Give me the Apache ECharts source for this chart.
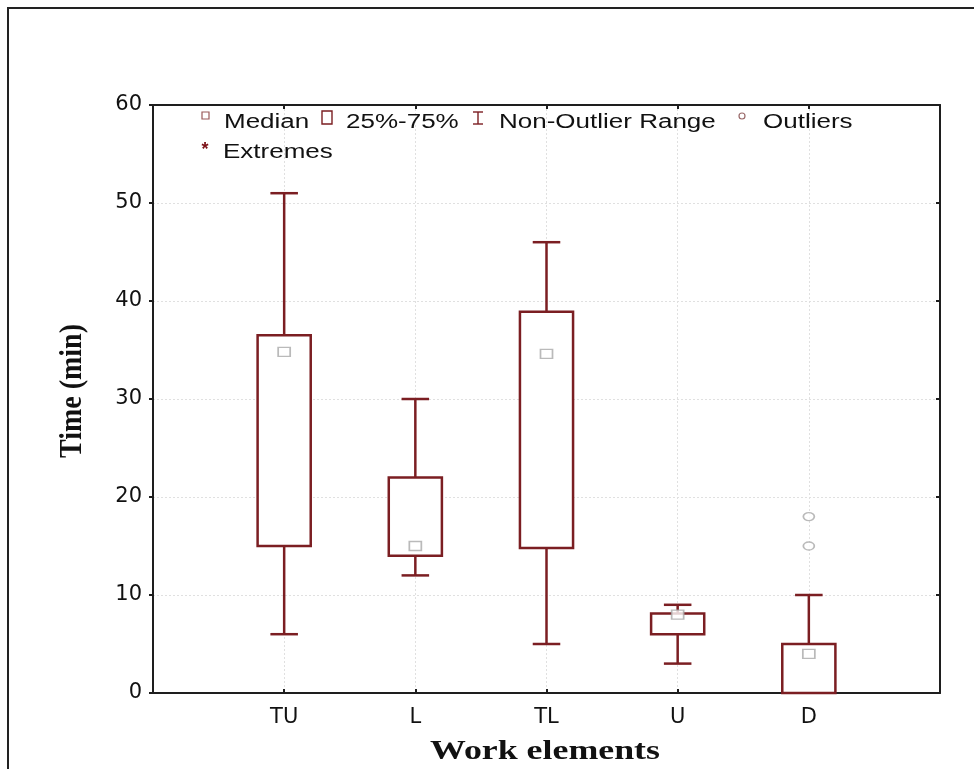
<!DOCTYPE html>
<html>
<head>
<meta charset="utf-8">
<script src="https://cdn.jsdelivr.net/npm/echarts@6/dist/echarts.min.js"></script>
<style>html,body{margin:0;padding:0;background:#fff}#main{width:974px;height:769px}</style>
</head>
<body>
<div id="main"></div>
<script>
// ---- data ----
const categories = ['TU', 'L', 'TL', 'U', 'D'];
const whiskerMin = [6, 12, 5, 3, 0];
const quartile1 = [15, 14, 14.8, 6, 0];
const medians = [34.8, 15, 34.6, 8, 4];
const quartile3 = [36.5, 22, 38.9, 8.1, 5];
const whiskerMax = [51, 30, 46, 9, 10];
const outlierCategory = ['D', 'D'];
const outlierValues = [15, 18];
const yTicks = [0, 10, 20, 30, 40, 50, 60];

// ---- build series data ----
const boxData = categories.map((c, i) => [i + 1, whiskerMin[i], quartile1[i], medians[i], quartile3[i], whiskerMax[i]]);
const medianData = categories.map((c, i) => [i + 1, medians[i]]);
const outlierData = outlierValues.map((v, i) => [categories.indexOf(outlierCategory[i]) + 1, v]);

const BOX_COLOR = '#7b1e22';
const AXIS_COLOR = '#1e1e1e';
const GRID_COLOR = '#e0e0e0';
const SANS = '"DejaVu Sans", sans-serif';
const LEG_FONT = '20px "Liberation Sans", Arial, sans-serif';
const TITLE_FONT = 'bold 28px "Liberation Serif", "Times New Roman", serif';

const chart = echarts.init(document.getElementById('main'), null, {renderer: 'canvas'});

function renderBox(params, api) {
  const x = api.value(0);
  const pMin = api.coord([x, api.value(1)]);
  const pQ1 = api.coord([x, api.value(2)]);
  const pQ3 = api.coord([x, api.value(4)]);
  const pMax = api.coord([x, api.value(5)]);
  const unit = api.size([1, 0])[0];
  const bw = unit * 0.405, cw = unit * 0.21;
  const cx = pMin[0];
  const ls = {stroke: BOX_COLOR, lineWidth: 2.5};
  const children = [];
  if (pMax[1] < pQ3[1]) {
    children.push({type: 'line', shape: {x1: cx, y1: pMax[1], x2: cx, y2: pQ3[1]}, style: ls});
    children.push({type: 'line', shape: {x1: cx - cw / 2, y1: pMax[1], x2: cx + cw / 2, y2: pMax[1]}, style: ls});
  }
  if (pMin[1] > pQ1[1]) {
    children.push({type: 'line', shape: {x1: cx, y1: pQ1[1], x2: cx, y2: pMin[1]}, style: ls});
    children.push({type: 'line', shape: {x1: cx - cw / 2, y1: pMin[1], x2: cx + cw / 2, y2: pMin[1]}, style: ls});
  }
  children.push({type: 'rect', shape: {x: cx - bw / 2, y: pQ3[1], width: bw, height: pQ1[1] - pQ3[1]},
    style: {fill: '#fff', stroke: BOX_COLOR, lineWidth: 2.5}});
  return {type: 'group', children: children};
}

const legendItems = [
  {text: 'Median', x: 224, y: 122},
  {text: '25%-75%', x: 346, y: 122},
  {text: 'Non-Outlier Range', x: 499, y: 122},
  {text: 'Outliers', x: 763, y: 122},
  {text: 'Extremes', x: 223, y: 152}
];

const graphics = [
  // outer frame
  {type: 'rect', shape: {x: 8, y: 8, width: 990, height: 800}, style: {fill: 'none', stroke: '#222', lineWidth: 2}, z: 0, silent: true},
  // legend icons
  {type: 'rect', shape: {x: 202, y: 112, width: 7, height: 7}, style: {fill: '#fff', stroke: '#9a5a5a', lineWidth: 1.2}, z: 10},
  {type: 'rect', shape: {x: 322, y: 111, width: 10, height: 13}, style: {fill: '#fff', stroke: BOX_COLOR, lineWidth: 1.4}, z: 10},
  {type: 'line', shape: {x1: 478, y1: 112, x2: 478, y2: 124}, style: {stroke: BOX_COLOR, lineWidth: 1.4}, z: 10},
  {type: 'line', shape: {x1: 473, y1: 112, x2: 483, y2: 112}, style: {stroke: BOX_COLOR, lineWidth: 1.4}, z: 10},
  {type: 'line', shape: {x1: 473, y1: 124, x2: 483, y2: 124}, style: {stroke: BOX_COLOR, lineWidth: 1.4}, z: 10},
  {type: 'circle', shape: {cx: 742, cy: 116, r: 3}, style: {fill: '#fff', stroke: '#9a6a6a', lineWidth: 1.2}, z: 10},
  {type: 'text', x: 205, y: 150, style: {text: '*', font: 'bold 18px "Liberation Sans", Arial, sans-serif', fill: '#7b0f15', textAlign: 'center', textVerticalAlign: 'middle'}, z: 10},
  // axis titles
  {type: 'text', x: 545, y: 752, scaleX: 1.28, style: {text: 'Work elements', font: TITLE_FONT, fill: '#111', textAlign: 'center', textVerticalAlign: 'middle'}, z: 10},
  {type: 'text', x: 73, y: 391, rotation: Math.PI / 2, scaleY: 1.15, style: {text: 'Time (min)', font: TITLE_FONT, fill: '#111', textAlign: 'center', textVerticalAlign: 'middle'}, z: 10}
];
legendItems.forEach(it => graphics.push({type: 'text', x: it.x, y: it.y, scaleX: 1.3,
  style: {text: it.text, font: LEG_FONT, fill: '#111', textAlign: 'left', textVerticalAlign: 'middle'}, z: 10}));

const option = {
  animation: false,
  backgroundColor: '#fff',
  grid: {left: 153, right: 34, top: 105, bottom: 76, containLabel: false},
  xAxis: [
    {type: 'value', min: 0, max: categories.length + 1, interval: 1, position: 'bottom',
      axisLine: {show: true, onZero: false, lineStyle: {color: AXIS_COLOR, width: 2}},
      axisTick: {show: true, inside: true, length: 4, lineStyle: {color: AXIS_COLOR, width: 2}},
      axisLabel: {margin: 14, color: '#111', fontFamily: SANS, fontSize: 21,
        formatter: v => categories[v - 1] || ''},
      splitLine: {show: true, lineStyle: {color: GRID_COLOR, width: 1, type: [2, 2]}}},
    {type: 'value', min: 0, max: categories.length + 1, interval: 1, position: 'top',
      axisLine: {show: true, onZero: false, lineStyle: {color: AXIS_COLOR, width: 2}},
      axisTick: {show: true, inside: true, length: 4, lineStyle: {color: AXIS_COLOR, width: 2}},
      axisLabel: {show: false}, splitLine: {show: false}}
  ],
  yAxis: [
    {type: 'value', min: yTicks[0], max: yTicks[yTicks.length - 1], interval: yTicks[1] - yTicks[0], position: 'left',
      axisLine: {show: true, onZero: false, lineStyle: {color: AXIS_COLOR, width: 2}},
      axisTick: {show: true, inside: false, length: 4, lineStyle: {color: AXIS_COLOR, width: 2}},
      axisLabel: {margin: 11, color: '#111', fontFamily: SANS, fontSize: 21},
      splitLine: {show: true, lineStyle: {color: GRID_COLOR, width: 1, type: [2, 2]}}},
    {type: 'value', min: yTicks[0], max: yTicks[yTicks.length - 1], interval: yTicks[1] - yTicks[0], position: 'right',
      axisLine: {show: true, onZero: false, lineStyle: {color: AXIS_COLOR, width: 2}},
      axisTick: {show: true, inside: true, length: 4, lineStyle: {color: AXIS_COLOR, width: 2}},
      axisLabel: {show: false}, splitLine: {show: false}}
  ],
  series: [
    {name: 'Box', type: 'custom', xAxisIndex: 0, yAxisIndex: 0, renderItem: renderBox, data: boxData,
      encode: {x: 0, y: [1, 2, 3, 4, 5]}, z: 2},
    {name: 'Median', type: 'scatter', xAxisIndex: 0, yAxisIndex: 0, data: medianData, symbol: 'rect', symbolSize: [12, 9],
      itemStyle: {color: '#fff', borderColor: '#a9a9a9', borderWidth: 1.5}, z: 4},
    {name: 'Outliers', type: 'scatter', xAxisIndex: 0, yAxisIndex: 0, data: outlierData,
      symbol: 'path://M1,0A1,1,0,1,1,1,2A1,1,0,1,1,1,0Z', symbolSize: [11, 8],
      itemStyle: {color: '#fff', borderColor: '#a9a9a9', borderWidth: 1.5}, z: 4}
  ],
  graphic: graphics
};
chart.setOption(option);
</script>
</body>
</html>
